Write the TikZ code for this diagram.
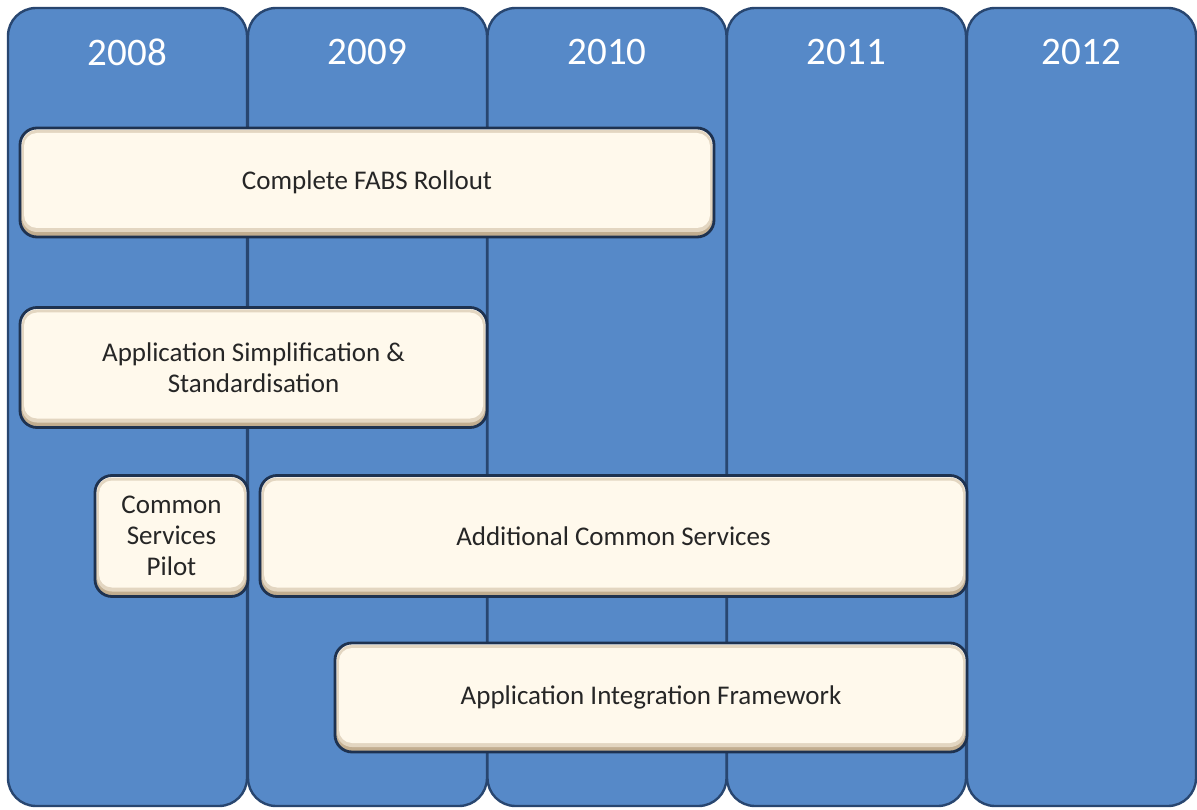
\documentclass[tikz,border=0pt]{standalone}
\usepackage{fontspec}
\setmainfont{Carlito}
\definecolor{colfill}{HTML}{5689C8}
\definecolor{colborder}{HTML}{284670}
\definecolor{boxborder}{HTML}{1E3250}
\definecolor{cream}{HTML}{FFF9EC}
\definecolor{tan}{HTML}{C0AB8C}
\definecolor{boxtext}{HTML}{262626}
\begin{document}
\begin{tikzpicture}[x=1pt,y=-1pt,
  col/.style={draw=colborder, line width=2.4pt, fill=colfill, rounded corners=28pt, inner sep=0pt},
  year/.style={text=white, font=\fontsize{39}{42}\selectfont, inner sep=0pt},
  task/.style={draw=boxborder, line width=2.8pt, rounded corners=17pt, inner sep=0pt,
    top color=white, bottom color=tan, align=center, text=boxtext,
    font=\fontsize{27}{31}\selectfont,
    path picture={
      \fill[cream!55!tan, rounded corners=15pt]
        ([xshift=2pt,yshift=-2pt]path picture bounding box.north west) rectangle
        ([xshift=-2pt,yshift=5pt]path picture bounding box.south east);
      \fill[cream, rounded corners=13pt]
        ([xshift=4pt,yshift=-5pt]path picture bounding box.north west) rectangle
        ([xshift=-4pt,yshift=9pt]path picture bounding box.south east);
    }},
]
\useasboundingbox (0,0) rectangle (1197,810);
\fill[white] (0,0) rectangle (1197,810);

% year columns
\node[col, minimum width=239pt, minimum height=798pt] (c2008) at (127.5,407) {};
\node[col, minimum width=239pt, minimum height=798pt] (c2009) at (367.5,407) {};
\node[col, minimum width=239pt, minimum height=798pt] (c2010) at (607,407) {};
\node[col, minimum width=239pt, minimum height=798pt] (c2011) at (846.5,407) {};
\node[col, minimum width=229pt, minimum height=798pt] (c2012) at (1081.5,407) {};

\node[year] (y2008) at (c2008.center |- 0,52) {2008};
\node[year] (y2009) at (c2009.center |- 0,52) {2009};
\node[year] (y2010) at (c2010.center |- 0,52) {2010};
\node[year] (y2011) at (c2011.center |- 0,52) {2011};
\node[year] (y2012) at (c2012.center |- 0,52) {2012};

% task boxes
\node[task, minimum width=694pt, minimum height=109pt] (fabs) at (367,182.5) {Complete FABS Rollout};
\node[task, minimum width=467pt, minimum height=120pt] (simp) at (253.5,367.5) {Application Simplification \&\\Standardisation};
\node[task, minimum width=153pt, minimum height=121pt] (pilot) at (171.5,536) {Common\\Services\\Pilot};
\node[task, minimum width=707pt, minimum height=121pt] (acs) at (613.5,536) {Additional Common Services};
\node[task, minimum width=632pt, minimum height=109pt] (aif) at (651,697.5) {Application Integration Framework};
\end{tikzpicture}
\end{document}
